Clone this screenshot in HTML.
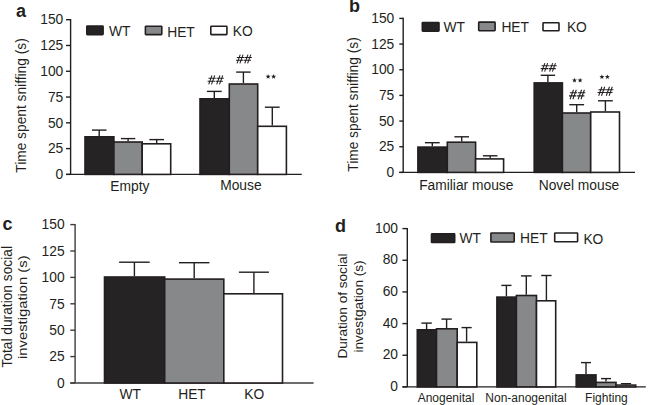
<!DOCTYPE html><html><head><meta charset="utf-8"><style>
html,body{margin:0;padding:0;background:#fff;width:649px;height:405px;overflow:hidden}
svg{display:block;font-family:"Liberation Sans", sans-serif}
</style></head><body>
<svg width="649" height="405" viewBox="0 0 649 405">
<rect width="649" height="405" fill="#fff"/>
<text x="16.0" y="16.8" font-size="18" text-anchor="start" font-weight="bold" fill="#231f20" >a</text>
<line x1="70.6" y1="19.0" x2="70.6" y2="174.4" stroke="#231f20" stroke-width="1.4"/>
<line x1="66.0" y1="19.7" x2="70.6" y2="19.7" stroke="#231f20" stroke-width="1.4"/>
<text x="63.3" y="24.45" font-size="13.8" text-anchor="end" font-weight="normal" fill="#231f20" >150</text>
<line x1="66.0" y1="45.483333333333334" x2="70.6" y2="45.483333333333334" stroke="#231f20" stroke-width="1.4"/>
<text x="63.3" y="50.233333333333334" font-size="13.8" text-anchor="end" font-weight="normal" fill="#231f20" >125</text>
<line x1="66.0" y1="71.26666666666667" x2="70.6" y2="71.26666666666667" stroke="#231f20" stroke-width="1.4"/>
<text x="63.3" y="76.01666666666667" font-size="13.8" text-anchor="end" font-weight="normal" fill="#231f20" >100</text>
<line x1="66.0" y1="97.05000000000001" x2="70.6" y2="97.05000000000001" stroke="#231f20" stroke-width="1.4"/>
<text x="63.3" y="101.80000000000001" font-size="13.8" text-anchor="end" font-weight="normal" fill="#231f20" >75</text>
<line x1="66.0" y1="122.83333333333334" x2="70.6" y2="122.83333333333334" stroke="#231f20" stroke-width="1.4"/>
<text x="63.3" y="127.58333333333334" font-size="13.8" text-anchor="end" font-weight="normal" fill="#231f20" >50</text>
<line x1="66.0" y1="148.61666666666667" x2="70.6" y2="148.61666666666667" stroke="#231f20" stroke-width="1.4"/>
<text x="63.3" y="153.36666666666667" font-size="13.8" text-anchor="end" font-weight="normal" fill="#231f20" >25</text>
<line x1="66.0" y1="174.4" x2="70.6" y2="174.4" stroke="#231f20" stroke-width="1.4"/>
<text x="63.3" y="179.15" font-size="13.8" text-anchor="end" font-weight="normal" fill="#231f20" >0</text>
<line x1="66.0" y1="174.4" x2="301.8" y2="174.4" stroke="#231f20" stroke-width="1.4"/>
<rect x="85.00" y="136.80" width="28.90" height="37.60" fill="#252324" stroke="#231f20" stroke-width="1.6"/>
<rect x="113.90" y="142.00" width="28.30" height="32.40" fill="#87888a" stroke="#231f20" stroke-width="1.6"/>
<rect x="142.20" y="143.80" width="28.50" height="30.60" fill="#fff" stroke="#231f20" stroke-width="1.6"/>
<rect x="200.00" y="98.80" width="29.30" height="75.60" fill="#252324" stroke="#231f20" stroke-width="1.6"/>
<rect x="229.30" y="84.00" width="28.40" height="90.40" fill="#87888a" stroke="#231f20" stroke-width="1.6"/>
<rect x="257.70" y="126.30" width="28.70" height="48.10" fill="#fff" stroke="#231f20" stroke-width="1.6"/>
<line x1="99.2" y1="136.0" x2="99.2" y2="130.1" stroke="#231f20" stroke-width="1.4"/>
<line x1="91.9" y1="130.1" x2="106.5" y2="130.1" stroke="#231f20" stroke-width="1.4"/>
<line x1="128.1" y1="141.2" x2="128.1" y2="138.6" stroke="#231f20" stroke-width="1.4"/>
<line x1="120.89999999999999" y1="138.6" x2="135.29999999999998" y2="138.6" stroke="#231f20" stroke-width="1.4"/>
<line x1="156.7" y1="143.0" x2="156.7" y2="139.6" stroke="#231f20" stroke-width="1.4"/>
<line x1="149.39999999999998" y1="139.6" x2="164.0" y2="139.6" stroke="#231f20" stroke-width="1.4"/>
<line x1="214.3" y1="98.0" x2="214.3" y2="91.4" stroke="#231f20" stroke-width="1.4"/>
<line x1="206.9" y1="91.4" x2="221.70000000000002" y2="91.4" stroke="#231f20" stroke-width="1.4"/>
<line x1="243.4" y1="83.2" x2="243.4" y2="72.1" stroke="#231f20" stroke-width="1.4"/>
<line x1="236.20000000000002" y1="72.1" x2="250.6" y2="72.1" stroke="#231f20" stroke-width="1.4"/>
<line x1="272.3" y1="125.5" x2="272.3" y2="107.2" stroke="#231f20" stroke-width="1.4"/>
<line x1="264.90000000000003" y1="107.2" x2="279.7" y2="107.2" stroke="#231f20" stroke-width="1.4"/>
<rect x="86.80" y="26.00" width="16.30" height="8.60" rx="0.6" fill="#252324" stroke="#231f20" stroke-width="1.6"/>
<text x="109.0" y="35.7" font-size="13.8" text-anchor="start" font-weight="normal" fill="#231f20" >WT</text>
<rect x="145.40" y="26.20" width="16.40" height="8.40" rx="0.6" fill="#87888a" stroke="#231f20" stroke-width="1.6"/>
<text x="167.2" y="36.5" font-size="13.8" text-anchor="start" font-weight="normal" fill="#231f20" >HET</text>
<rect x="210.80" y="26.20" width="16.10" height="8.40" rx="0.6" fill="#fff" stroke="#231f20" stroke-width="1.6"/>
<text x="232.8" y="35.7" font-size="13.8" text-anchor="start" font-weight="normal" fill="#231f20" >KO</text>
<path d="M208.70,84.40L211.93,75.40M211.50,84.40L214.73,75.40M208.50,78.28L215.80,78.28M207.60,81.25L214.90,81.25M216.70,84.40L219.93,75.40M219.50,84.40L222.73,75.40M216.50,78.28L223.80,78.28M215.60,81.25L222.90,81.25" stroke="#231f20" stroke-width="1.05" fill="none"/>
<path d="M237.10,63.40L240.26,54.60M239.90,63.40L243.06,54.60M236.90,57.42L244.20,57.42M236.00,60.32L243.30,60.32M244.80,63.40L247.96,54.60M247.60,63.40L250.76,54.60M244.60,57.42L251.90,57.42M243.70,60.32L251.00,60.32" stroke="#231f20" stroke-width="1.05" fill="none"/>
<polygon points="268.10,74.00 268.75,75.71 270.57,75.80 269.15,76.94 269.63,78.70 268.10,77.70 266.57,78.70 267.05,76.94 265.63,75.80 267.45,75.71" fill="#231f20"/>
<polygon points="273.60,74.00 274.25,75.71 276.07,75.80 274.65,76.94 275.13,78.70 273.60,77.70 272.07,78.70 272.55,76.94 271.13,75.80 272.95,75.71" fill="#231f20"/>
<text x="129.9" y="190.5" font-size="13.8" text-anchor="middle" font-weight="normal" fill="#231f20" >Empty</text>
<text x="240.9" y="190.4" font-size="13.8" text-anchor="middle" font-weight="normal" fill="#231f20" >Mouse</text>
<text transform="translate(26.4,105.5) rotate(-90)" font-size="13.9" text-anchor="middle" fill="#231f20" textLength="134.5" lengthAdjust="spacingAndGlyphs">Time spent sniffing (s)</text>
<text x="349.0" y="12.3" font-size="18" text-anchor="start" font-weight="bold" fill="#231f20" >b</text>
<line x1="403.2" y1="17.7" x2="403.2" y2="172.4" stroke="#231f20" stroke-width="1.4"/>
<line x1="399.3" y1="18.4" x2="403.2" y2="18.4" stroke="#231f20" stroke-width="1.4"/>
<text x="394.3" y="23.15" font-size="13.8" text-anchor="end" font-weight="normal" fill="#231f20" >150</text>
<line x1="399.3" y1="44.06666666666666" x2="403.2" y2="44.06666666666666" stroke="#231f20" stroke-width="1.4"/>
<text x="394.3" y="48.81666666666666" font-size="13.8" text-anchor="end" font-weight="normal" fill="#231f20" >125</text>
<line x1="399.3" y1="69.73333333333333" x2="403.2" y2="69.73333333333333" stroke="#231f20" stroke-width="1.4"/>
<text x="394.3" y="74.48333333333333" font-size="13.8" text-anchor="end" font-weight="normal" fill="#231f20" >100</text>
<line x1="399.3" y1="95.4" x2="403.2" y2="95.4" stroke="#231f20" stroke-width="1.4"/>
<text x="394.3" y="100.15" font-size="13.8" text-anchor="end" font-weight="normal" fill="#231f20" >75</text>
<line x1="399.3" y1="121.06666666666666" x2="403.2" y2="121.06666666666666" stroke="#231f20" stroke-width="1.4"/>
<text x="394.3" y="125.81666666666666" font-size="13.8" text-anchor="end" font-weight="normal" fill="#231f20" >50</text>
<line x1="399.3" y1="146.73333333333335" x2="403.2" y2="146.73333333333335" stroke="#231f20" stroke-width="1.4"/>
<text x="394.3" y="151.48333333333335" font-size="13.8" text-anchor="end" font-weight="normal" fill="#231f20" >25</text>
<line x1="399.3" y1="172.4" x2="403.2" y2="172.4" stroke="#231f20" stroke-width="1.4"/>
<text x="394.3" y="177.15" font-size="13.8" text-anchor="end" font-weight="normal" fill="#231f20" >0</text>
<line x1="399.3" y1="172.4" x2="635.0" y2="172.4" stroke="#231f20" stroke-width="1.4"/>
<rect x="417.90" y="147.10" width="29.40" height="25.30" fill="#252324" stroke="#231f20" stroke-width="1.6"/>
<rect x="447.30" y="142.20" width="28.30" height="30.20" fill="#87888a" stroke="#231f20" stroke-width="1.6"/>
<rect x="475.60" y="158.90" width="28.00" height="13.50" fill="#fff" stroke="#231f20" stroke-width="1.6"/>
<rect x="534.20" y="82.90" width="28.20" height="89.50" fill="#252324" stroke="#231f20" stroke-width="1.6"/>
<rect x="562.40" y="113.00" width="28.30" height="59.40" fill="#87888a" stroke="#231f20" stroke-width="1.6"/>
<rect x="590.70" y="112.00" width="28.80" height="60.40" fill="#fff" stroke="#231f20" stroke-width="1.6"/>
<line x1="432.3" y1="146.3" x2="432.3" y2="142.7" stroke="#231f20" stroke-width="1.4"/>
<line x1="424.90000000000003" y1="142.7" x2="439.7" y2="142.7" stroke="#231f20" stroke-width="1.4"/>
<line x1="461.7" y1="141.4" x2="461.7" y2="136.8" stroke="#231f20" stroke-width="1.4"/>
<line x1="454.4" y1="136.8" x2="469.0" y2="136.8" stroke="#231f20" stroke-width="1.4"/>
<line x1="490.2" y1="158.1" x2="490.2" y2="155.8" stroke="#231f20" stroke-width="1.4"/>
<line x1="482.9" y1="155.8" x2="497.5" y2="155.8" stroke="#231f20" stroke-width="1.4"/>
<line x1="547.9" y1="82.1" x2="547.9" y2="75.3" stroke="#231f20" stroke-width="1.4"/>
<line x1="540.6999999999999" y1="75.3" x2="555.1" y2="75.3" stroke="#231f20" stroke-width="1.4"/>
<line x1="576.7" y1="112.2" x2="576.7" y2="104.7" stroke="#231f20" stroke-width="1.4"/>
<line x1="569.3000000000001" y1="104.7" x2="584.1" y2="104.7" stroke="#231f20" stroke-width="1.4"/>
<line x1="605.4" y1="111.2" x2="605.4" y2="100.8" stroke="#231f20" stroke-width="1.4"/>
<line x1="598.0" y1="100.8" x2="612.8" y2="100.8" stroke="#231f20" stroke-width="1.4"/>
<rect x="422.30" y="22.50" width="16.70" height="8.60" rx="0.6" fill="#252324" stroke="#231f20" stroke-width="1.6"/>
<text x="443.4" y="31.8" font-size="13.8" text-anchor="start" font-weight="normal" fill="#231f20" >WT</text>
<rect x="478.70" y="22.10" width="16.40" height="8.60" rx="0.6" fill="#87888a" stroke="#231f20" stroke-width="1.6"/>
<text x="501.4" y="31.5" font-size="13.8" text-anchor="start" font-weight="normal" fill="#231f20" >HET</text>
<rect x="543.00" y="22.70" width="16.00" height="8.10" rx="0.6" fill="#fff" stroke="#231f20" stroke-width="1.6"/>
<text x="566.9" y="32.1" font-size="13.8" text-anchor="start" font-weight="normal" fill="#231f20" >KO</text>
<path d="M541.80,71.60L544.85,63.10M544.60,71.60L547.65,63.10M541.60,65.82L548.90,65.82M540.70,68.62L548.00,68.62M549.60,71.60L552.65,63.10M552.40,71.60L555.45,63.10M549.40,65.82L556.70,65.82M548.50,68.62L555.80,68.62" stroke="#231f20" stroke-width="1.05" fill="none"/>
<path d="M570.10,99.20L573.51,89.70M572.90,99.20L576.31,89.70M569.90,92.74L577.20,92.74M569.00,95.88L576.30,95.88M578.20,99.20L581.61,89.70M581.00,99.20L584.41,89.70M578.00,92.74L585.30,92.74M577.10,95.88L584.40,95.88" stroke="#231f20" stroke-width="1.05" fill="none"/>
<path d="M598.70,95.70L601.89,86.80M601.50,95.70L604.69,86.80M598.50,89.65L605.80,89.65M597.60,92.58L604.90,92.58M606.30,95.70L609.49,86.80M609.10,95.70L612.29,86.80M606.10,89.65L613.40,89.65M605.20,92.58L612.50,92.58" stroke="#231f20" stroke-width="1.05" fill="none"/>
<polygon points="574.50,77.70 575.15,79.41 576.97,79.50 575.55,80.64 576.03,82.40 574.50,81.40 572.97,82.40 573.45,80.64 572.03,79.50 573.85,79.41" fill="#231f20"/>
<polygon points="580.10,77.70 580.75,79.41 582.57,79.50 581.15,80.64 581.63,82.40 580.10,81.40 578.57,82.40 579.05,80.64 577.63,79.50 579.45,79.41" fill="#231f20"/>
<polygon points="601.90,74.40 602.55,76.11 604.37,76.20 602.95,77.34 603.43,79.10 601.90,78.10 600.37,79.10 600.85,77.34 599.43,76.20 601.25,76.11" fill="#231f20"/>
<polygon points="607.40,74.40 608.05,76.11 609.87,76.20 608.45,77.34 608.93,79.10 607.40,78.10 605.87,79.10 606.35,77.34 604.93,76.20 606.75,76.11" fill="#231f20"/>
<text x="466.3" y="190.4" font-size="13.8" text-anchor="middle" font-weight="normal" fill="#231f20" >Familiar mouse</text>
<text x="579.0" y="190.4" font-size="13.8" text-anchor="middle" font-weight="normal" fill="#231f20" >Novel mouse</text>
<text transform="translate(357.7,104.5) rotate(-90)" font-size="13.9" text-anchor="middle" fill="#231f20" textLength="134.5" lengthAdjust="spacingAndGlyphs">Time spent sniffing (s)</text>
<text x="2.5" y="229.8" font-size="18" text-anchor="start" font-weight="bold" fill="#231f20" >c</text>
<line x1="75.1" y1="223.9" x2="75.1" y2="383.0" stroke="#3d3d3d" stroke-width="1.4"/>
<line x1="70.3" y1="224.6" x2="75.1" y2="224.6" stroke="#3d3d3d" stroke-width="1.4"/>
<text x="64.6" y="229.35" font-size="13.8" text-anchor="end" font-weight="normal" fill="#231f20" >150</text>
<line x1="70.3" y1="251.0" x2="75.1" y2="251.0" stroke="#3d3d3d" stroke-width="1.4"/>
<text x="64.6" y="255.75" font-size="13.8" text-anchor="end" font-weight="normal" fill="#231f20" >125</text>
<line x1="70.3" y1="277.4" x2="75.1" y2="277.4" stroke="#3d3d3d" stroke-width="1.4"/>
<text x="64.6" y="282.15" font-size="13.8" text-anchor="end" font-weight="normal" fill="#231f20" >100</text>
<line x1="70.3" y1="303.8" x2="75.1" y2="303.8" stroke="#3d3d3d" stroke-width="1.4"/>
<text x="64.6" y="308.55" font-size="13.8" text-anchor="end" font-weight="normal" fill="#231f20" >75</text>
<line x1="70.3" y1="330.2" x2="75.1" y2="330.2" stroke="#3d3d3d" stroke-width="1.4"/>
<text x="64.6" y="334.95" font-size="13.8" text-anchor="end" font-weight="normal" fill="#231f20" >50</text>
<line x1="70.3" y1="356.6" x2="75.1" y2="356.6" stroke="#3d3d3d" stroke-width="1.4"/>
<text x="64.6" y="361.35" font-size="13.8" text-anchor="end" font-weight="normal" fill="#231f20" >25</text>
<line x1="70.3" y1="383.0" x2="75.1" y2="383.0" stroke="#3d3d3d" stroke-width="1.4"/>
<text x="64.6" y="387.75" font-size="13.8" text-anchor="end" font-weight="normal" fill="#231f20" >0</text>
<line x1="70.3" y1="383.0" x2="313.6" y2="383.0" stroke="#3d3d3d" stroke-width="1.4"/>
<rect x="104.50" y="277.00" width="60.20" height="106.00" fill="#252324" stroke="#231f20" stroke-width="1.6"/>
<rect x="164.70" y="279.10" width="59.10" height="103.90" fill="#87888a" stroke="#231f20" stroke-width="1.6"/>
<rect x="223.80" y="293.80" width="58.70" height="89.20" fill="#fff" stroke="#231f20" stroke-width="1.6"/>
<line x1="134.4" y1="276.2" x2="134.4" y2="262.2" stroke="#231f20" stroke-width="1.4"/>
<line x1="119.10000000000001" y1="262.2" x2="149.70000000000002" y2="262.2" stroke="#231f20" stroke-width="1.4"/>
<line x1="194.2" y1="278.3" x2="194.2" y2="262.7" stroke="#231f20" stroke-width="1.4"/>
<line x1="179.0" y1="262.7" x2="209.39999999999998" y2="262.7" stroke="#231f20" stroke-width="1.4"/>
<line x1="253.9" y1="293.0" x2="253.9" y2="272.2" stroke="#231f20" stroke-width="1.4"/>
<line x1="238.9" y1="272.2" x2="268.9" y2="272.2" stroke="#231f20" stroke-width="1.4"/>
<text x="130.3" y="399.0" font-size="13.8" text-anchor="middle" font-weight="normal" fill="#231f20" >WT</text>
<text x="192.0" y="399.0" font-size="13.8" text-anchor="middle" font-weight="normal" fill="#231f20" >HET</text>
<text x="254.3" y="398.9" font-size="13.8" text-anchor="middle" font-weight="normal" fill="#231f20" >KO</text>
<text transform="translate(11.9,306.8) rotate(-90)" font-size="13.75" text-anchor="middle" fill="#231f20">Total duration social</text>
<text transform="translate(27.4,307.2) rotate(-90)" font-size="13.6" text-anchor="middle" fill="#231f20" textLength="103.6" lengthAdjust="spacingAndGlyphs">investigation (s)</text>
<text x="335.0" y="231.6" font-size="18" text-anchor="start" font-weight="bold" fill="#231f20" >d</text>
<line x1="407.3" y1="227.9" x2="407.3" y2="386.9" stroke="#231f20" stroke-width="1.4"/>
<line x1="402.4" y1="228.6" x2="407.3" y2="228.6" stroke="#231f20" stroke-width="1.4"/>
<text x="398.0" y="232.7" font-size="13.8" text-anchor="end" font-weight="normal" fill="#231f20" >100</text>
<line x1="402.4" y1="260.26" x2="407.3" y2="260.26" stroke="#231f20" stroke-width="1.4"/>
<text x="398.0" y="264.36" font-size="13.8" text-anchor="end" font-weight="normal" fill="#231f20" >80</text>
<line x1="402.4" y1="291.91999999999996" x2="407.3" y2="291.91999999999996" stroke="#231f20" stroke-width="1.4"/>
<text x="398.0" y="296.02" font-size="13.8" text-anchor="end" font-weight="normal" fill="#231f20" >60</text>
<line x1="402.4" y1="323.58" x2="407.3" y2="323.58" stroke="#231f20" stroke-width="1.4"/>
<text x="398.0" y="327.68" font-size="13.8" text-anchor="end" font-weight="normal" fill="#231f20" >40</text>
<line x1="402.4" y1="355.24" x2="407.3" y2="355.24" stroke="#231f20" stroke-width="1.4"/>
<text x="398.0" y="359.34000000000003" font-size="13.8" text-anchor="end" font-weight="normal" fill="#231f20" >20</text>
<line x1="402.4" y1="386.9" x2="407.3" y2="386.9" stroke="#231f20" stroke-width="1.4"/>
<text x="398.0" y="391.0" font-size="13.8" text-anchor="end" font-weight="normal" fill="#231f20" >0</text>
<line x1="402.4" y1="386.9" x2="645.8" y2="386.9" stroke="#231f20" stroke-width="1.4"/>
<rect x="417.30" y="329.80" width="19.20" height="57.10" fill="#252324" stroke="#231f20" stroke-width="1.6"/>
<rect x="436.50" y="328.80" width="20.70" height="58.10" fill="#87888a" stroke="#231f20" stroke-width="1.6"/>
<rect x="457.20" y="342.40" width="19.60" height="44.50" fill="#fff" stroke="#231f20" stroke-width="1.6"/>
<rect x="496.90" y="297.10" width="19.50" height="89.80" fill="#252324" stroke="#231f20" stroke-width="1.6"/>
<rect x="516.40" y="295.50" width="20.10" height="91.40" fill="#87888a" stroke="#231f20" stroke-width="1.6"/>
<rect x="536.50" y="300.80" width="19.20" height="86.10" fill="#fff" stroke="#231f20" stroke-width="1.6"/>
<rect x="576.20" y="374.90" width="19.80" height="12.00" fill="#252324" stroke="#231f20" stroke-width="1.6"/>
<rect x="596.00" y="382.40" width="20.00" height="4.50" fill="#87888a" stroke="#231f20" stroke-width="1.6"/>
<rect x="616.00" y="385.10" width="19.70" height="1.80" fill="#fff" stroke="#231f20" stroke-width="1.6"/>
<line x1="426.6" y1="329.0" x2="426.6" y2="323.1" stroke="#231f20" stroke-width="1.4"/>
<line x1="421.40000000000003" y1="323.1" x2="431.8" y2="323.1" stroke="#231f20" stroke-width="1.4"/>
<line x1="446.6" y1="328.0" x2="446.6" y2="319.1" stroke="#231f20" stroke-width="1.4"/>
<line x1="441.40000000000003" y1="319.1" x2="451.8" y2="319.1" stroke="#231f20" stroke-width="1.4"/>
<line x1="466.6" y1="341.6" x2="466.6" y2="327.6" stroke="#231f20" stroke-width="1.4"/>
<line x1="461.5" y1="327.6" x2="471.70000000000005" y2="327.6" stroke="#231f20" stroke-width="1.4"/>
<line x1="506.4" y1="296.3" x2="506.4" y2="285.4" stroke="#231f20" stroke-width="1.4"/>
<line x1="501.29999999999995" y1="285.4" x2="511.5" y2="285.4" stroke="#231f20" stroke-width="1.4"/>
<line x1="526.3" y1="294.7" x2="526.3" y2="275.9" stroke="#231f20" stroke-width="1.4"/>
<line x1="521.0" y1="275.9" x2="531.5999999999999" y2="275.9" stroke="#231f20" stroke-width="1.4"/>
<line x1="546.4" y1="300.0" x2="546.4" y2="275.5" stroke="#231f20" stroke-width="1.4"/>
<line x1="541.1999999999999" y1="275.5" x2="551.6" y2="275.5" stroke="#231f20" stroke-width="1.4"/>
<line x1="586.0" y1="374.1" x2="586.0" y2="362.6" stroke="#231f20" stroke-width="1.4"/>
<line x1="581.0" y1="362.6" x2="591.0" y2="362.6" stroke="#231f20" stroke-width="1.4"/>
<line x1="606.0" y1="381.6" x2="606.0" y2="378.6" stroke="#231f20" stroke-width="1.4"/>
<line x1="601.0" y1="378.6" x2="611.0" y2="378.6" stroke="#231f20" stroke-width="1.4"/>
<line x1="626.0" y1="384.4" x2="626.0" y2="383.7" stroke="#231f20" stroke-width="1.4"/>
<line x1="620.9" y1="383.7" x2="631.1" y2="383.7" stroke="#231f20" stroke-width="1.4"/>
<rect x="431.50" y="233.90" width="23.20" height="8.60" rx="0.6" fill="#252324" stroke="#231f20" stroke-width="1.6"/>
<text x="459.4" y="243.0" font-size="13.8" text-anchor="start" font-weight="normal" fill="#231f20" >WT</text>
<rect x="490.90" y="233.00" width="23.30" height="9.00" rx="0.6" fill="#87888a" stroke="#231f20" stroke-width="1.6"/>
<text x="520.0" y="242.8" font-size="13.8" text-anchor="start" font-weight="normal" fill="#231f20" >HET</text>
<rect x="554.70" y="233.00" width="22.90" height="8.80" rx="0.6" fill="#fff" stroke="#231f20" stroke-width="1.6"/>
<text x="583.4" y="243.5" font-size="13.8" text-anchor="start" font-weight="normal" fill="#231f20" >KO</text>
<text x="446.0" y="402.0" font-size="12" text-anchor="middle" font-weight="normal" fill="#231f20" >Anogenital</text>
<text x="526.0" y="402.0" font-size="12" text-anchor="middle" font-weight="normal" fill="#231f20" >Non-anogenital</text>
<text x="606.4" y="402.0" font-size="12" text-anchor="middle" font-weight="normal" fill="#231f20" >Fighting</text>
<text transform="translate(346.9,306.0) rotate(-90)" font-size="13.6" text-anchor="middle" fill="#231f20">Duration of social</text>
<text transform="translate(363.0,306.5) rotate(-90)" font-size="13.6" text-anchor="middle" fill="#231f20">investgation (s)</text>
</svg></body></html>
